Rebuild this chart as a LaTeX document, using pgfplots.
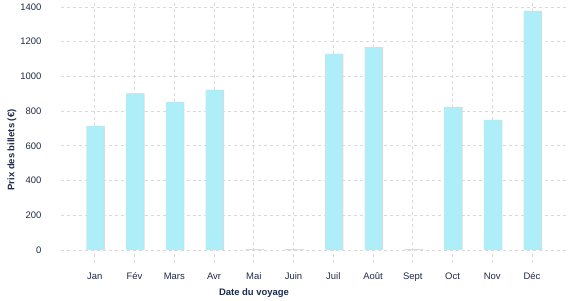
\documentclass[border=0pt]{standalone}
\usepackage{pgfplots}
\pgfplotsset{compat=1.18}
\usepackage{fontspec}
\setmainfont{Liberation Sans}
\definecolor{barc}{HTML}{AEEEF8}
\definecolor{shad}{HTML}{DADADA}
\definecolor{txt}{HTML}{1E2A48}
\definecolor{gridc}{HTML}{D9D9D9}
\begin{document}
\begin{tikzpicture}[x=1bp,y=1bp]
\path[use as bounding box] (0,0) rectangle (577,300);
\begin{axis}[
  at={(61bp,37bp)}, anchor=south west,
  scale only axis, width=506bp, height=263bp,
  xmin=-0.85, xmax=11.88, ymin=-75, ymax=1440,
  xtick={0,...,11},
  xticklabels={Jan,Fév,Mars,Avr,Mai,Juin,Juil,Août,Sept,Oct,Nov,Déc},
  ytick={0,200,...,1400},
  axis line style={draw=none},
  major tick length=0pt,
  grid=major,
  major grid style={gridc, dashed, line width=0.7bp},
  tick label style={font=\fontsize{9.5}{10}\selectfont, text=txt},
  /pgf/number format/assume math mode=true,
  /pgf/number format/1000 sep={},
  yticklabel style={xshift=-16bp},
  xticklabel style={yshift=-6bp},
  ybar, bar width=17bp,
]
\addplot[draw=none, fill=shad, bar shift=1.5bp] coordinates {(0,714) (1,902) (2,852) (3,922) (4,5) (5,5) (6,1129) (7,1169) (8,5) (9,824) (10,749) (11,1377)};
\addplot[draw=none, fill=barc, bar shift=0bp] coordinates {(0,714) (1,902) (2,852) (3,922) (4,5) (5,5) (6,1129) (7,1169) (8,5) (9,824) (10,749) (11,1377)};
\end{axis}
\node[text=txt, font=\fontsize{9.5}{10}\selectfont\bfseries] at (254,7) {Date du voyage};
\node[text=txt, font=\fontsize{9.5}{10}\selectfont\bfseries, rotate=90] at (12,150) {Prix des billets (€)};
\end{tikzpicture}
\end{document}
